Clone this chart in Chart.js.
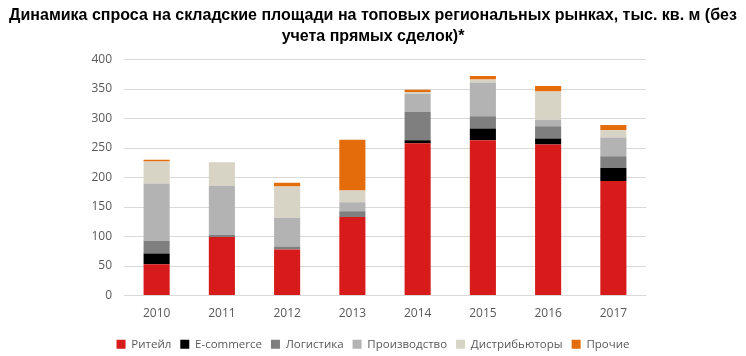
<!DOCTYPE html>
<html>
<head>
<meta charset="utf-8">
<script src="https://cdn.jsdelivr.net/npm/chart.js@4.4.1/dist/chart.umd.min.js"></script>
<style>
html,body{margin:0;padding:0;background:#fff;}
#wrap{width:746px;height:356px;}
</style>
</head>
<body>
<div id="wrap"><canvas id="c" width="746" height="356"></canvas></div>
<script>
const categories = ['2010','2011','2012','2013','2014','2015','2016','2017'];
const retail       = [53, 99, 78, 133, 258, 263, 256, 194];
const ecommerce    = [18, 0, 0, 0, 5, 20, 10, 22];
const logistics    = [22, 4, 5, 10, 48, 21, 21, 20];
const production   = [97, 83, 49, 15, 31, 57, 11, 32];
const distributors = [37, 40, 53, 20, 3, 5, 48, 12];
const others       = [3, 0, 6, 86, 4, 6, 9, 9];
const yTicks = [0, 50, 100, 150, 200, 250, 300, 350, 400];

const titleLines = ['Динамика спроса на складские площади на топовых региональных рынках, тыс. кв. м (без', 'учета прямых сделок)*'];

function ds(label, data, color){
  return {label, data, backgroundColor: color, borderWidth: 0, barPercentage: 0.8, categoryPercentage: 0.5};
}

new Chart(document.getElementById('c'), {
  type: 'bar',
  data: {
    labels: categories,
    datasets: [
      ds('Ритейл', retail, '#d71a1a'),
      ds('E-commerce', ecommerce, '#000000'),
      ds('Логистика', logistics, '#7f7f7f'),
      ds('Производство', production, '#b3b3b3'),
      ds('Дистрибьюторы', distributors, '#d7d4c5'),
      ds('Прочие', others, '#e46c0a')
    ]
  },
  options: {
    responsive: false,
    animation: false,
    layout: {padding: {left: 0, right: 0, top: 5, bottom: -4}},
    plugins: {
      title: {
        display: true,
        text: titleLines,
        color: '#000',
        font: {family: 'Liberation Sans', size: 16, weight: 'bold', lineHeight: 1.33},
        padding: {top: 0, bottom: 12}
      },
      legend: {
        position: 'bottom',
        labels: {
          boxWidth: 9, boxHeight: 9, padding: 9,
          color: '#595959',
          font: {family: 'Open Sans', size: 11.5}
        }
      },
      tooltip: {enabled: false}
    },
    scales: {
      x: {
        stacked: true,
        afterFit: (s) => { s.height = 34; },
        grid: {display: false},
        border: {display: false},
        ticks: {color: '#595959', font: {family: 'Open Sans', size: 12}, padding: 3}
      },
      y: {
        stacked: true,
        min: 0, max: 400,
        afterBuildTicks: (s) => { s.ticks = yTicks.map(v => ({value: v})); },
        afterFit: (s) => { s.width = 124; },
        grid: {color: '#d9d9d9', lineWidth: 1, drawTicks: false},
        border: {display: false},
        ticks: {color: '#595959', font: {family: 'Open Sans', size: 12}, padding: 12}
      },
      yRight: {
        position: 'right',
        display: true,
        afterFit: (s) => { s.width = 100; },
        grid: {display: false, drawOnChartArea: false},
        border: {display: false},
        ticks: {display: false}
      }
    }
  }
});
</script>
</body>
</html>
